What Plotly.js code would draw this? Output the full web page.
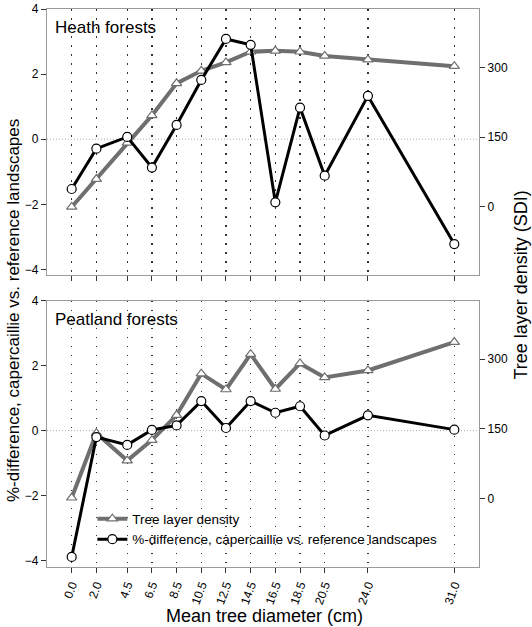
<!DOCTYPE html>
<html>
<head>
<meta charset="utf-8">
<script src="https://cdn.plot.ly/plotly-3.0.1.min.js"></script>
<style>
  html, body { margin: 0; padding: 0; background: #fff; }
  #chart { width: 532px; height: 627px; }
</style>
</head>
<body>
<div id="chart"></div>
<script>
// Mean tree diameter classes (cm)
const diameters = [0.0, 2.0, 4.5, 6.5, 8.5, 10.5, 12.5, 14.5, 16.5, 18.5, 20.5, 24.0, 31.0];
const tickLabels = ["0.0", "2.0", "4.5", "6.5", "8.5", "10.5", "12.5", "14.5", "16.5", "18.5", "20.5", "24.0", "31.0"];

// Heath forests
const heathDiff = [-1.53, -0.29, 0.07, -0.87, 0.44, 1.82, 3.08, 2.90, -1.94, 0.97, -1.12, 1.33, -3.22];
const heathDensity = [0, 60, 138, 197, 266, 293, 311, 334, 336, 334, 325, 317, 303];

// Peatland forests
const peatDiff = [-3.89, -0.20, -0.44, 0.02, 0.16, 0.91, 0.08, 0.91, 0.55, 0.75, -0.15, 0.47, 0.03];
const peatDensity = [2, 141, 82, 126, 180, 269, 235, 311, 236, 291, 261, 276, 337];

const names = ["Tree layer density", "%-difference, capercaillie vs. reference landscapes"];

const GREY = "#6f6f6f";
const densityStyle = {
  mode: "lines+markers",
  line: { color: GREY, width: 4 },
  marker: { symbol: "triangle-up", size: 9, color: "#fff", line: { color: GREY, width: 1.2 } }
};
const diffStyle = {
  mode: "lines+markers",
  line: { color: "#000", width: 3 },
  marker: { symbol: "circle", size: 9, color: "#fff", line: { color: "#000", width: 1.2 } }
};

// Density sits on the base axes, %-difference on the overlaying axes so it draws on top
const traces = [
  Object.assign({ x: diameters, y: peatDensity, xaxis: "x", yaxis: "y", name: names[0] }, densityStyle),
  Object.assign({ x: diameters, y: peatDiff, xaxis: "x", yaxis: "y2", name: names[1] }, diffStyle),
  Object.assign({ x: diameters, y: heathDensity, xaxis: "x2", yaxis: "y3", name: names[0], showlegend: false }, densityStyle),
  Object.assign({ x: diameters, y: heathDiff, xaxis: "x2", yaxis: "y4", name: names[1], showlegend: false }, diffStyle)
];

const tickFont = { family: "Liberation Sans, Arial, sans-serif", size: 12, color: "#000" };
const axisLine = "#9a9a9a";

const xBase = {
  range: [-2, 33],
  tickmode: "array",
  tickvals: diameters,
  ticktext: tickLabels,
  ticks: "outside",
  ticklen: 5,
  tickcolor: "#333",
  showgrid: true,
  gridcolor: "#333",
  gridwidth: 1.2,
  griddash: "1.5px,7.5px",
  zeroline: false,
  showline: true,
  linecolor: axisLine,
  linewidth: 1.2,
  mirror: true,
  tickfont: tickFont
};

const leftBase = {
  range: [-4.18, 4],
  tickvals: [-4, -2, 0, 2, 4],
  ticks: "outside",
  ticklen: 5,
  tickcolor: "#333",
  showgrid: false,
  zeroline: false,
  side: "left",
  showline: true,
  linecolor: axisLine,
  linewidth: 1.2,
  tickfont: tickFont
};

const rightBase = {
  range: [-147, 426],
  tickvals: [0, 150, 300],
  ticks: "outside",
  ticklen: 5,
  tickcolor: "#333",
  showgrid: false,
  zeroline: false,
  side: "right",
  showline: true,
  linecolor: axisLine,
  linewidth: 1.2,
  tickfont: tickFont
};

const bottomDom = [0, 0.4772];
const topDom = [0.5228, 1];

const titleFont = { family: "Liberation Sans, Arial, sans-serif", size: 17, color: "#000" };

const layout = {
  width: 532,
  height: 627,
  margin: { l: 47, r: 53, t: 9, b: 60 },
  paper_bgcolor: "#fff",
  plot_bgcolor: "#fff",
  showlegend: true,
  legend: {
    x: 0.105, y: 0.114, xanchor: "left", yanchor: "top",
    bgcolor: "rgba(0,0,0,0)",
    font: { family: "Liberation Sans, Arial, sans-serif", size: 13.5, color: "#000" },
    tracegroupgap: 0,
    itemwidth: 30
  },
  xaxis: Object.assign({}, xBase, { anchor: "y", tickangle: -70 }),
  xaxis2: Object.assign({}, xBase, { anchor: "y3", matches: "x", showticklabels: false }),
  yaxis: Object.assign({}, rightBase, { domain: bottomDom, anchor: "x" }),
  yaxis2: Object.assign({}, leftBase, { range: [-4.2, 4], domain: bottomDom, anchor: "x", overlaying: "y" }),
  yaxis3: Object.assign({}, rightBase, { domain: topDom, anchor: "x2" }),
  yaxis4: Object.assign({}, leftBase, { domain: topDom, anchor: "x2", overlaying: "y3" }),
  shapes: [
    { type: "line", xref: "x domain", yref: "y2", x0: 0, x1: 1, y0: 0, y1: 0, layer: "below",
      line: { color: "#aaaaaa", width: 1, dash: "1px,2px" } },
    { type: "line", xref: "x2 domain", yref: "y4", x0: 0, x1: 1, y0: 0, y1: 0, layer: "below",
      line: { color: "#aaaaaa", width: 1, dash: "1px,2px" } }
  ],
  annotations: [
    { text: "Heath forests", xref: "paper", yref: "paper", x: 0.015, y: 0.988, xanchor: "left", yanchor: "top",
      showarrow: false, font: titleFont },
    { text: "Peatland forests", xref: "paper", yref: "paper", x: 0.015, y: 0.465, xanchor: "left", yanchor: "top",
      showarrow: false, font: titleFont },
    { text: "%-difference, capercaillie vs. reference landscapes", xref: "paper", yref: "paper",
      x: -0.076, y: 0.459, xanchor: "center", yanchor: "middle", textangle: -90, showarrow: false, font: titleFont },
    { text: "Tree layer density (SDI)", xref: "paper", yref: "paper",
      x: 1.098, y: 0.505, xanchor: "center", yanchor: "middle", textangle: -90, showarrow: false,
      font: Object.assign({}, titleFont, { size: 18 }) },
    { text: "Mean tree diameter (cm)", xref: "paper", yref: "paper",
      x: 0.504, y: -0.088, xanchor: "center", yanchor: "middle", showarrow: false,
      font: Object.assign({}, titleFont, { size: 18 }) }
  ]
};

Plotly.newPlot("chart", traces, layout, { displayModeBar: false, staticPlot: true });
</script>
</body>
</html>
